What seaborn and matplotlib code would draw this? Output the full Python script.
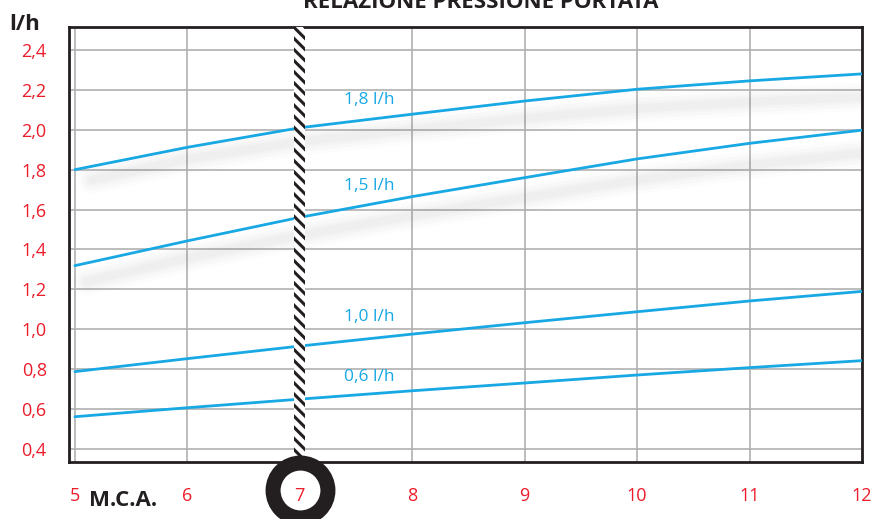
import numpy as np
import pandas as pd
import matplotlib
matplotlib.use("Agg")
import matplotlib.pyplot as plt
import seaborn as sns

# pressione (m.c.a.) e portata (l/h)
mca = [5, 6, 7, 8, 9, 10, 11, 12]
curve_18 = [1.80, 1.912, 2.01, 2.078, 2.144, 2.203, 2.245, 2.28]
curve_15 = [1.319, 1.443, 1.561, 1.665, 1.76, 1.854, 1.932, 1.998]
curve_10 = [0.788, 0.853, 0.916, 0.976, 1.033, 1.088, 1.142, 1.19]
curve_06 = [0.562, 0.607, 0.65, 0.692, 0.731, 0.771, 0.808, 0.843]
series_names = ["1,8 l/h", "1,5 l/h", "1,0 l/h", "0,6 l/h"]
label_y = [2.15, 1.72, 1.06, 0.76]

y_ticks = [0.4, 0.6, 0.8, 1.0, 1.2, 1.4, 1.6, 1.8, 2.0, 2.2, 2.4]
y_ticklabels = ["0,4", "0,6", "0,8", "1,0", "1,2", "1,4", "1,6", "1,8", "2,0", "2,2", "2,4"]
x_ticks = [5, 6, 7, 8, 9, 10, 11, 12]

blue = "#18a8e4"
red = "#ec1c2a"
grey = "#b0b0b0"

df = pd.DataFrame({
    "mca": mca * 4,
    "portata": curve_18 + curve_15 + curve_10 + curve_06,
    "serie": [s for s in series_names for _ in mca],
})

sns.set_style("white")
plt.rcParams["font.family"] = ["Open Sans", "DejaVu Sans"]
plt.rcParams["hatch.linewidth"] = 2.2

fig = plt.figure(figsize=(8.74, 5.19), dpi=100)
ax = fig.add_axes([0.0789, 0.1098, 0.9074, 0.8382])

# ombre sfumate sotto le due curve alte
for vals, x0, off0 in [(curve_18, 5.15, 0.05), (curve_15, 5.1, 0.08)]:
    xs = np.array(mca, dtype=float)
    xs[0] = x0
    ys = np.array(vals) - (off0 + (xs - 5) * (0.115 - off0) / 7)
    for lw, a in [(20, 0.018), (15, 0.022), (10, 0.028), (6, 0.035)]:
        ax.plot(xs, ys, color="#707070", lw=lw, alpha=a,
                solid_capstyle="round", zorder=1)

sns.lineplot(data=df, x="mca", y="portata", hue="serie",
             palette=[blue] * 4, linewidth=2, legend=False, ax=ax, zorder=3)

for name, ly in zip(series_names, label_y):
    ax.text(7.62, ly, name, color=blue, fontsize=12.5, ha="center", va="center")

# fascia tratteggiata a 7 m.c.a.
ax.axvspan(6.95, 7.05, facecolor="white", edgecolor="#231f20", hatch="\\\\\\",
           linewidth=0, zorder=4)

ax.set_xlim(4.947, 12.0)
ax.set_ylim(0.335, 2.515)
ax.set_xticks(x_ticks)
ax.set_xticklabels([str(x) for x in x_ticks])
ax.set_yticks(y_ticks)
ax.set_yticklabels(y_ticklabels)
ax.grid(True, color=grey, linewidth=1.2)
ax.set_axisbelow(True)
ax.tick_params(axis="y", length=8, width=1.2, color=grey, colors=red,
               labelsize=13, pad=8)
ax.tick_params(axis="x", length=4, width=1.2, color=grey, colors=red,
               labelsize=13, pad=14)
for lab in ax.get_xticklabels() + ax.get_yticklabels():
    lab.set_color(red)
for sp in ax.spines.values():
    sp.set_color("#231f20")
    sp.set_linewidth(2)
ax.set_xlabel("")
ax.set_ylabel("")

# cerchio sul valore 7
ax.plot([7], [0.196], marker="o", markersize=39.5, markerfacecolor="none",
        markeredgecolor="#231f20", markeredgewidth=10.8, clip_on=False, zorder=5)

fig.text(0.0105, 0.952, "l/h", fontsize=16, fontweight="bold", color="#231f20",
         ha="left", va="center")
fig.text(0.102, 0.035, "M.C.A.", fontsize=16, fontweight="bold", color="#231f20",
         ha="left", va="center")
fig.text(0.55, 0.996, "RELAZIONE PRESSIONE PORTATA", fontsize=16,
         fontweight="bold", color="#231f20", ha="center", va="center")

fig.savefig("out.png", dpi=100)
